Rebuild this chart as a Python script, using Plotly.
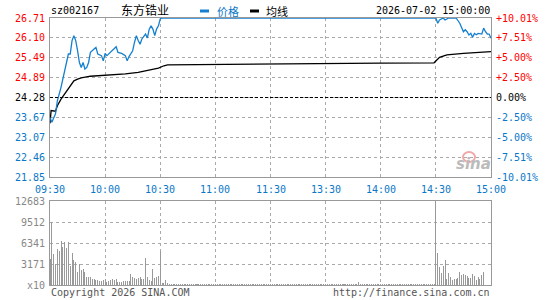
import plotly.graph_objects as go

W, H = 545, 300

# ---------------- data ----------------
prev_close = 24.28
price_ticks = [26.71, 26.10, 25.49, 24.89, 24.28, 23.67, 23.07, 22.46, 21.85]
pct_labels = ["+10.01%", "+7.51%", "+5.00%", "+2.50%", "0.00%", "-2.50%", "-5.00%", "-7.51%", "-10.01%"]
time_ticks = [0, 30, 60, 90, 120, 150, 180, 210, 240]
time_labels = ["09:30", "10:00", "10:30", "11:00", "11:30", "13:30", "14:00", "14:30", "15:00"]
vol_ticks = [12683, 9512, 6341, 3171, 0]
vol_labels = ["12683", "9512", "6341", "3171", "x10"]

price_idx = [0, 1, 3, 4, 6, 8, 9, 10, 11, 12, 13, 14, 15, 16, 17, 18, 19, 20, 21, 22, 24, 25, 26,
             28, 29, 30, 31, 33, 35, 36, 37, 39, 41, 42, 43, 45, 46, 47, 48, 49, 50, 52, 53, 54,
             55, 56, 57, 58, 59, 60, 61, 210, 211, 212, 214, 215, 217, 221, 223, 224, 225, 226,
             227, 228, 229, 230, 231, 232, 233, 235, 236, 237, 238, 239, 240]
price_val = [23.67, 23.52, 23.78, 24.18, 24.59, 25.10, 25.40, 25.61, 25.61, 26.02, 26.17, 26.02,
             25.71, 25.35, 25.20, 25.35, 25.15, 25.20, 25.35, 25.66, 25.76, 25.81, 25.61,
             25.56, 25.40, 25.63, 25.56, 25.66, 25.76, 25.83, 25.66, 25.63, 25.56, 25.40, 25.53,
             25.71, 25.97, 26.17, 26.02, 25.91, 26.07, 26.22, 26.10, 26.37,
             26.47, 26.37, 26.17, 26.37, 26.47, 26.68, 26.71, 26.71, 26.55, 26.65, 26.71, 26.65,
             26.71, 26.71, 26.55, 26.40, 26.29, 26.35,
             26.29, 26.19, 26.24, 26.12, 26.24, 26.20, 26.24, 26.22, 26.40, 26.29, 26.22, 26.22, 26.09]

avg_idx = [0, 0.6, 3, 4, 6, 8, 10, 12, 13, 15, 17, 22, 28, 33, 41, 48, 53, 59, 62, 64, 180, 209,
           212, 216, 225, 234, 240]
avg_val = [23.49, 23.88, 23.86, 24.03, 24.23, 24.39, 24.54, 24.69, 24.79, 24.84, 24.88, 24.93,
           24.95, 24.97, 25.00, 25.05, 25.10, 25.18, 25.25, 25.28, 25.33, 25.34,
           25.51, 25.58, 25.63, 25.66, 25.68]

vol_morning = [3926, 9467, 4680, 3170, 5436, 5134, 6644, 5738, 6493, 5587, 6493, 2869, 4832, 3775,
               3473, 1963, 3170, 2265, 2416, 1963, 1208, 1208, 1208, 906, 906, 755, 755, 604, 604,
               755, 906, 453, 604, 755, 906, 755, 906, 500, 500, 500, 604, 604, 604, 604, 1661,
               1208, 1000, 906, 1000, 1208, 906, 906, 4077, 1208, 755, 650, 2416, 1000, 1208, 1359,
               5134, 300, 300, 755]
vol_quiet = [310, 150, 120, 200, 90, 160, 110, 140, 100, 180, 130, 90, 150, 120, 170, 100, 140, 110, 90, 160,
             120, 100, 150, 130, 90, 110, 170, 100, 140, 120, 80, 130, 110, 150, 90, 120, 100, 140, 130, 110,
             90, 150, 120, 100, 160, 110, 130, 90, 140, 100, 120, 150, 110, 130, 90, 100, 140, 120, 160, 110,
             130, 100, 90, 150, 120, 110, 140, 100, 130, 90, 120, 160, 110, 100, 140, 130, 90, 120, 150, 100,
             110, 140, 120, 90, 130, 100, 150, 120, 110, 140, 140, 120, 100, 130, 90, 110, 150, 120, 100, 140,
             120, 90, 130, 110, 380, 100, 140, 120, 90, 130, 110, 160, 100, 120, 140, 90, 130, 110, 150, 120,
             100, 140, 120, 110, 130, 150, 90, 120, 100, 140, 110, 130, 90, 150, 120, 100, 160, 110, 130, 90,
             140, 100, 120, 110, 150, 130]
vol_1430 = [12683]
vol_afternoon = [4780, 2770, 1860, 2920, 3775, 906, 1860, 1208, 755, 906, 906, 1057, 1963, 1510,
                 1661, 1510, 1359, 1057, 1057, 1661, 1359, 755, 1208, 906, 1510, 1963]

volumes = vol_morning + vol_quiet + vol_1430 + vol_afternoon
vol_idx = list(range(len(volumes)))

# ---------------- styling ----------------
BLUE = "#1580d0"
LBLUE = "#0a78c8"
RED = "#ff0000"
GRID = "#aaaaaa"
BORDER = "#999999"
MONO = "DejaVu Sans Mono"

x0, x1 = 50, 491
py0, py1 = 18, 177
vy0, vy1 = 201, 285

def px(x):
    return x / W

def py(y):
    return 1 - y / H

fig = go.Figure()

fig.add_trace(go.Bar(x=vol_idx, y=volumes, width=0.55, marker=dict(color="#999999", line=dict(width=0)),
                     xaxis="x2", yaxis="y2", hoverinfo="skip"))
fig.add_trace(go.Scatter(x=avg_idx, y=avg_val, mode="lines", line=dict(color="black", width=1.3),
                         xaxis="x", yaxis="y", hoverinfo="skip"))
fig.add_trace(go.Scatter(x=price_idx, y=price_val, mode="lines", line=dict(color=BLUE, width=1.3),
                         xaxis="x", yaxis="y", hoverinfo="skip", cliponaxis=False))

axis_common = dict(showline=True, mirror=True, linecolor=BORDER, linewidth=1, zeroline=False,
                   showticklabels=False, ticks="", showgrid=True, gridcolor=GRID, gridwidth=1,
                   griddash="dot")

fig.update_layout(
    width=W, height=H, margin=dict(l=0, r=0, t=0, b=0),
    paper_bgcolor="white", plot_bgcolor="white", showlegend=False, bargap=0,
    xaxis=dict(domain=[px(x0), px(x1)], range=[0, 240], tickvals=time_ticks[1:-1], anchor="y", **axis_common),
    yaxis=dict(domain=[py(py1), py(py0)], range=[21.85, 26.71], tickvals=price_ticks[1:-1], anchor="x", **axis_common),
    xaxis2=dict(domain=[px(x0), px(x1)], range=[0, 240], tickvals=time_ticks[1:-1], anchor="y2", **axis_common),
    yaxis2=dict(domain=[py(vy1), py(vy0)], range=[0, 12683], tickvals=vol_ticks[1:-1], anchor="x2", **axis_common),
)

# previous close dashed line
fig.add_shape(type="line", xref="x", yref="y", x0=0, x1=240, y0=prev_close, y1=prev_close,
              line=dict(color="black", width=1, dash="3px,2px"))

ann = []
# price labels left / percent labels right
for i, (v, p) in enumerate(zip(price_ticks, pct_labels)):
    c = RED if i < 4 else ("black" if i == 4 else LBLUE)
    ann.append(dict(x=px(47), y=v, xref="paper", yref="y", text=f"{v:.2f}", showarrow=False,
                    xanchor="right", yanchor="middle", font=dict(family=MONO, size=10, color=c)))
    ann.append(dict(x=px(494), y=v, xref="paper", yref="y", text=p, showarrow=False,
                    xanchor="left", yanchor="middle", font=dict(family=MONO, size=10, color=c)))
# time labels
for t, lab in zip(time_ticks, time_labels):
    ann.append(dict(x=t, y=py(189), xref="x", yref="paper", text=lab, showarrow=False,
                    xanchor="center", yanchor="middle", font=dict(family=MONO, size=10, color=LBLUE)))
# volume labels
for v, lab in zip(vol_ticks, vol_labels):
    ann.append(dict(x=px(47), y=v, xref="paper", yref="y2", text=lab, showarrow=False,
                    xanchor="right", yanchor="middle", font=dict(family=MONO, size=10, color="#888888")))
# header
ann.append(dict(x=px(49), y=py(11), xref="paper", yref="paper", text="sz002167", showarrow=False,
                xanchor="left", yanchor="middle", font=dict(family=MONO, size=10, color="black")))
ann.append(dict(x=px(119), y=py(10), xref="paper", yref="paper", text="东方锆业", showarrow=False,
                xanchor="left", yanchor="middle", font=dict(family="Noto Sans CJK SC", size=12, color="black")))
ann.append(dict(x=px(215), y=py(11), xref="paper", yref="paper", text="价格", showarrow=False,
                xanchor="left", yanchor="middle", font=dict(family="Noto Sans CJK SC", size=11, color=LBLUE)))
ann.append(dict(x=px(264), y=py(11), xref="paper", yref="paper", text="均线", showarrow=False,
                xanchor="left", yanchor="middle", font=dict(family="Noto Sans CJK SC", size=11, color="black")))
ann.append(dict(x=px(492), y=py(11), xref="paper", yref="paper", text="2026-07-02 15:00:00", showarrow=False,
                xanchor="right", yanchor="middle", font=dict(family=MONO, size=10, color="black")))
# footer
ann.append(dict(x=px(49), y=py(292), xref="paper", yref="paper", text="Copyright 2026 SINA.COM", showarrow=False,
                xanchor="left", yanchor="middle", font=dict(family=MONO, size=10, color="#555555")))
ann.append(dict(x=px(492), y=py(292), xref="paper", yref="paper", text="http://finance.sina.com.cn", showarrow=False,
                xanchor="right", yanchor="middle", font=dict(family=MONO, size=10, color="#555555")))
# watermark
ann.append(dict(x=px(473), y=py(164), xref="paper", yref="paper", text="<b><i>sina</i></b>", showarrow=False,
                xanchor="center", yanchor="middle", font=dict(family="DejaVu Sans", size=15, color="#bbbbbb")))
fig.update_layout(annotations=ann)

# legend swatches
fig.add_shape(type="line", xref="paper", yref="paper", x0=px(200), x1=px(209), y0=py(11), y1=py(11),
              line=dict(color=BLUE, width=3))
fig.add_shape(type="line", xref="paper", yref="paper", x0=px(250), x1=px(259), y0=py(11), y1=py(11),
              line=dict(color="black", width=3))
# watermark eye
fig.add_shape(type="circle", xref="paper", yref="paper", x0=px(463), x1=px(475), y0=py(162), y1=py(152),
              line=dict(color="#f0a8a8", width=2), fillcolor="rgba(0,0,0,0)")

fig.write_html("out.html", config={"displayModeBar": False, "staticPlot": True})
